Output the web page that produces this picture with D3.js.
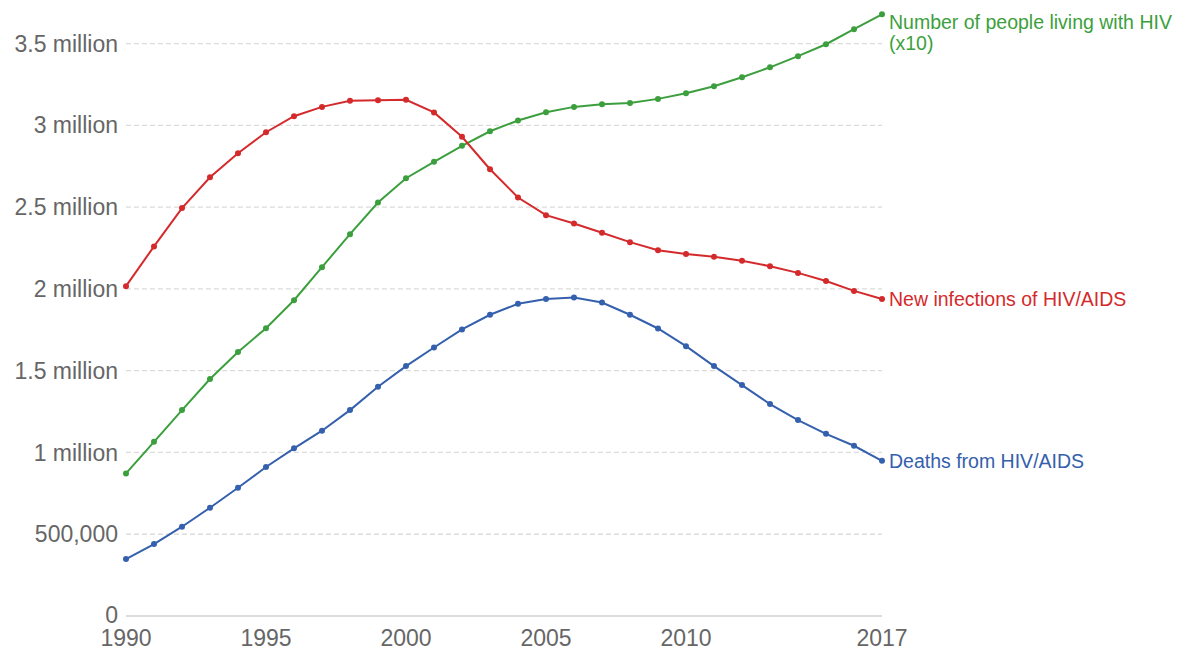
<!DOCTYPE html>
<html>
<head>
<meta charset="utf-8">
<script src="https://cdn.jsdelivr.net/npm/d3@7"></script>
<style>
  body { margin: 0; background: #fff; }
  svg { font-family: "Liberation Sans", Arial, sans-serif; }
</style>
</head>
<body>
<svg id="chart" width="1185" height="650"></svg>
<script>

const years = d3.range(1990, 2018);

// living with HIV is shown divided by 10 ("x10" in the label)
const livingWithHIV = [0.872, 1.065, 1.259, 1.449, 1.614, 1.760, 1.931, 2.133, 2.335, 2.528,
    2.677, 2.777, 2.875, 2.964, 3.030, 3.080, 3.113, 3.129, 3.137, 3.162,
    3.197, 3.239, 3.294, 3.355, 3.423, 3.496, 3.588, 3.679];

const newInfections = [2.017, 2.260, 2.494, 2.683, 2.830, 2.958, 3.056, 3.113, 3.150, 3.154,
    3.156, 3.079, 2.930, 2.732, 2.559, 2.451, 2.400, 2.343, 2.286, 2.237,
    2.213, 2.196, 2.172, 2.139, 2.098, 2.048, 1.988, 1.938];

const deaths = [0.348, 0.440, 0.546, 0.662, 0.784, 0.911, 1.025, 1.133, 1.259, 1.402,
    1.528, 1.642, 1.752, 1.842, 1.909, 1.939, 1.948, 1.917, 1.842, 1.758,
    1.650, 1.528, 1.412, 1.296, 1.198, 1.114, 1.041, 0.949];

const yTicks = [0, 500000, 1000000, 1500000, 2000000, 2500000, 3000000, 3500000];
const yTickLabels = ["0", "500,000", "1 million", "1.5 million", "2 million", "2.5 million", "3 million", "3.5 million"];
const xTicks = [1990, 1995, 2000, 2005, 2010, 2017];

const seriesNames = [["Number of people living with HIV", "(x10)"], ["New infections of HIV/AIDS"], ["Deaths from HIV/AIDS"]];
const seriesColors = ["#3c9f3e", "#d42a2c", "#3460ad"];

const series = [livingWithHIV, newInfections, deaths].map(function(vals, i) {
    return {
        name: seriesNames[i],
        color: seriesColors[i],
        values: vals.map(function(v, j) { return { year: years[j], value: v * 1e6 }; })
    };
});

const svg = d3.select("#chart");

const x_scale = d3.scaleLinear().domain([1990, 2017]).range([126, 882]);
const y_scale = d3.scaleLinear().domain([0, 3500000]).range([616, 43.6]);

// grid lines
svg.append("g")
    .selectAll("line")
    .data(yTicks.filter(d => d > 0))
    .enter()
    .append("line")
    .attr("x1", x_scale(1990))
    .attr("x2", x_scale(2017))
    .attr("y1", d => y_scale(d))
    .attr("y2", d => y_scale(d))
    .attr("stroke", "#dcdcdc")
    .attr("stroke-width", 1.3)
    .attr("stroke-dasharray", "5,3");

// baseline
svg.append("line")
    .attr("x1", x_scale(1990))
    .attr("x2", x_scale(2017))
    .attr("y1", y_scale(0))
    .attr("y2", y_scale(0))
    .attr("stroke", "#d0d0d0")
    .attr("stroke-width", 1.5);

// y axis labels
svg.append("g")
    .selectAll("text")
    .data(yTicks)
    .enter()
    .append("text")
    .attr("x", 118)
    .attr("y", d => y_scale(d) - (d == 0 ? 1 : 0))
    .attr("dy", "0.35em")
    .attr("text-anchor", "end")
    .attr("fill", "#666")
    .style("font-size", "23px")
    .text((d, i) => yTickLabels[i]);

// x axis labels
svg.append("g")
    .selectAll("text")
    .data(xTicks)
    .enter()
    .append("text")
    .attr("x", d => x_scale(d))
    .attr("y", 646)
    .attr("text-anchor", "middle")
    .attr("fill", "#666")
    .style("font-size", "23px")
    .text(d => d.toString());

const line = d3.line()
    .x(d => x_scale(d.year))
    .y(d => y_scale(d.value));

const groups = svg.append("g")
    .selectAll("g")
    .data(series)
    .enter()
    .append("g");

groups.append("path")
    .attr("fill", "none")
    .attr("stroke", d => d.color)
    .attr("stroke-width", 2)
    .attr("d", d => line(d.values));

groups.selectAll("circle")
    .data(d => d.values.map(v => ({ year: v.year, value: v.value, color: d.color })))
    .enter()
    .append("circle")
    .attr("cx", d => x_scale(d.year))
    .attr("cy", d => y_scale(d.value))
    .attr("r", 3)
    .attr("fill", d => d.color);

// end labels
groups.each(function(d) {
    var last = d.values[d.values.length - 1];
    var ly = y_scale(last.value);
    // the top label is pushed down a bit so it stays inside the picture
    if (d.name.length > 1) ly = Math.max(ly, 22);
    var label = d3.select(this).append("text")
        .attr("x", 889)
        .attr("y", ly)
        .attr("fill", d.color)
        .style("font-size", "19.5px");
    d.name.forEach(function(t, i) {
        label.append("tspan")
            .attr("x", 889)
            .attr("dy", i == 0 ? "0.35em" : "1.1em")
            .text(t);
    });
});

</script>
</body>
</html>
